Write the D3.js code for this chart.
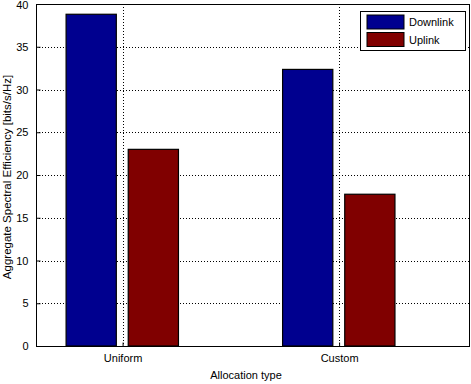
<!DOCTYPE html>
<html>
<head>
<meta charset="utf-8">
<script src="https://cdn.jsdelivr.net/npm/d3@7"></script>
<style>
  body { margin: 0; background: #fff; }
  text { font-family: "Liberation Sans", Arial, sans-serif; font-size: 11px; fill: #000; }
</style>
</head>
<body>
<div id="chart"></div>
<script>
var categories = ["Uniform", "Custom"];
var seriesNames = ["Downlink", "Uplink"];
var downlink = [38.8, 32.35];
var uplink = [23.0, 17.75];
var yTicks = [0, 5, 10, 15, 20, 25, 30, 35, 40];
var colors = ["#00008f", "#800000"];

function init(){
    var w = 471, h = 384;
    var left = 36, right = 469, top = 4, bottom = 346;

    var svg = d3.select("#chart").append("svg")
                .attr("width", w)
                .attr("height", h);

    // group position scale (matlab style xlim)
    var xScale = d3.scaleLinear().domain([0.6, 2.6]).range([left, right]);
    var yScale = d3.scaleLinear().domain([0, 40]).range([bottom, top]);

    var offsets = [-0.145, 0.142];
    var barW = 0.232;

    // grid
    svg.selectAll(".ygrid")
        .data(yTicks.slice(1, -1))
        .enter().append("line")
        .attr("x1", left).attr("x2", right)
        .attr("y1", function(d){ return Math.round(yScale(d)) + 0.5; })
        .attr("y2", function(d){ return Math.round(yScale(d)) + 0.5; })
        .attr("stroke", "#000").attr("stroke-width", 1)
        .attr("stroke-dasharray", "1,2");

    svg.selectAll(".xgrid")
        .data(categories)
        .enter().append("line")
        .attr("x1", function(d, i){ return Math.round(xScale(i + 1)) + 0.5; })
        .attr("x2", function(d, i){ return Math.round(xScale(i + 1)) + 0.5; })
        .attr("y1", top).attr("y2", bottom)
        .attr("stroke", "#000").attr("stroke-width", 1)
        .attr("stroke-dasharray", "1,2");

    // bars
    var series = [downlink, uplink];
    series.forEach(function(vals, s){
        svg.selectAll(".bar" + s)
            .data(vals)
            .enter().append("rect")
            .attr("x", function(d, i){ return xScale(i + 1 + offsets[s] - barW / 2); })
            .attr("y", function(d){ return yScale(d); })
            .attr("width", xScale(barW) - xScale(0))
            .attr("height", function(d){ return bottom - yScale(d); })
            .attr("fill", colors[s])
            .attr("stroke", "#000")
            .attr("stroke-width", 1.2);
    });

    // frame
    svg.append("rect")
        .attr("x", left + 0.5).attr("y", top + 0.5)
        .attr("width", right - left).attr("height", bottom - top)
        .attr("fill", "none").attr("stroke", "#000").attr("stroke-width", 1);

    // y axis
    var yAxis = d3.axisLeft(yScale).tickValues(yTicks).tickSize(-4).tickPadding(8);
    var gy = svg.append("g").attr("transform", "translate(" + (left + 0.5) + ",0)").call(yAxis);
    gy.select(".domain").remove();
    gy.selectAll("text").style("font-size", "11px").style("font-family", "Liberation Sans, Arial, sans-serif");
    // keep top label inside the window
    gy.selectAll(".tick text").filter(function(d){ return d === 40; }).attr("dy", "0.45em");

    // x axis
    var xAxis = d3.axisBottom(xScale).tickValues([1, 2])
                  .tickFormat(function(d){ return categories[d - 1]; })
                  .tickSize(-4).tickPadding(8);
    var gx = svg.append("g").attr("transform", "translate(0," + (bottom + 0.5) + ")").call(xAxis);
    gx.select(".domain").remove();
    gx.selectAll("text").style("font-size", "11px").style("font-family", "Liberation Sans, Arial, sans-serif");

    // axis labels
    svg.append("text")
        .attr("x", 246).attr("y", 379)
        .attr("text-anchor", "middle")
        .text("Allocation type");

    svg.append("text")
        .attr("transform", "translate(11,177) rotate(-90)")
        .attr("text-anchor", "middle")
        .style("font-size", "11.5px")
        .text("Aggregate Spectral Efficiency [bits/s/Hz]");

    // legend
    var lg = svg.append("g");
    lg.append("rect")
        .attr("x", 360.5).attr("y", 11.5)
        .attr("width", 105).attr("height", 39)
        .attr("fill", "#fff").attr("stroke", "#000");
    seriesNames.forEach(function(name, s){
        lg.append("rect")
            .attr("x", 367).attr("y", 15 + s * 17.5)
            .attr("width", 37).attr("height", 14)
            .attr("fill", colors[s]).attr("stroke", "#000").attr("stroke-width", 1);
        lg.append("text")
            .attr("x", 409).attr("y", 26 + s * 17.5)
            .text(name);
    });
}

window.onload = init;
</script>
</body>
</html>
